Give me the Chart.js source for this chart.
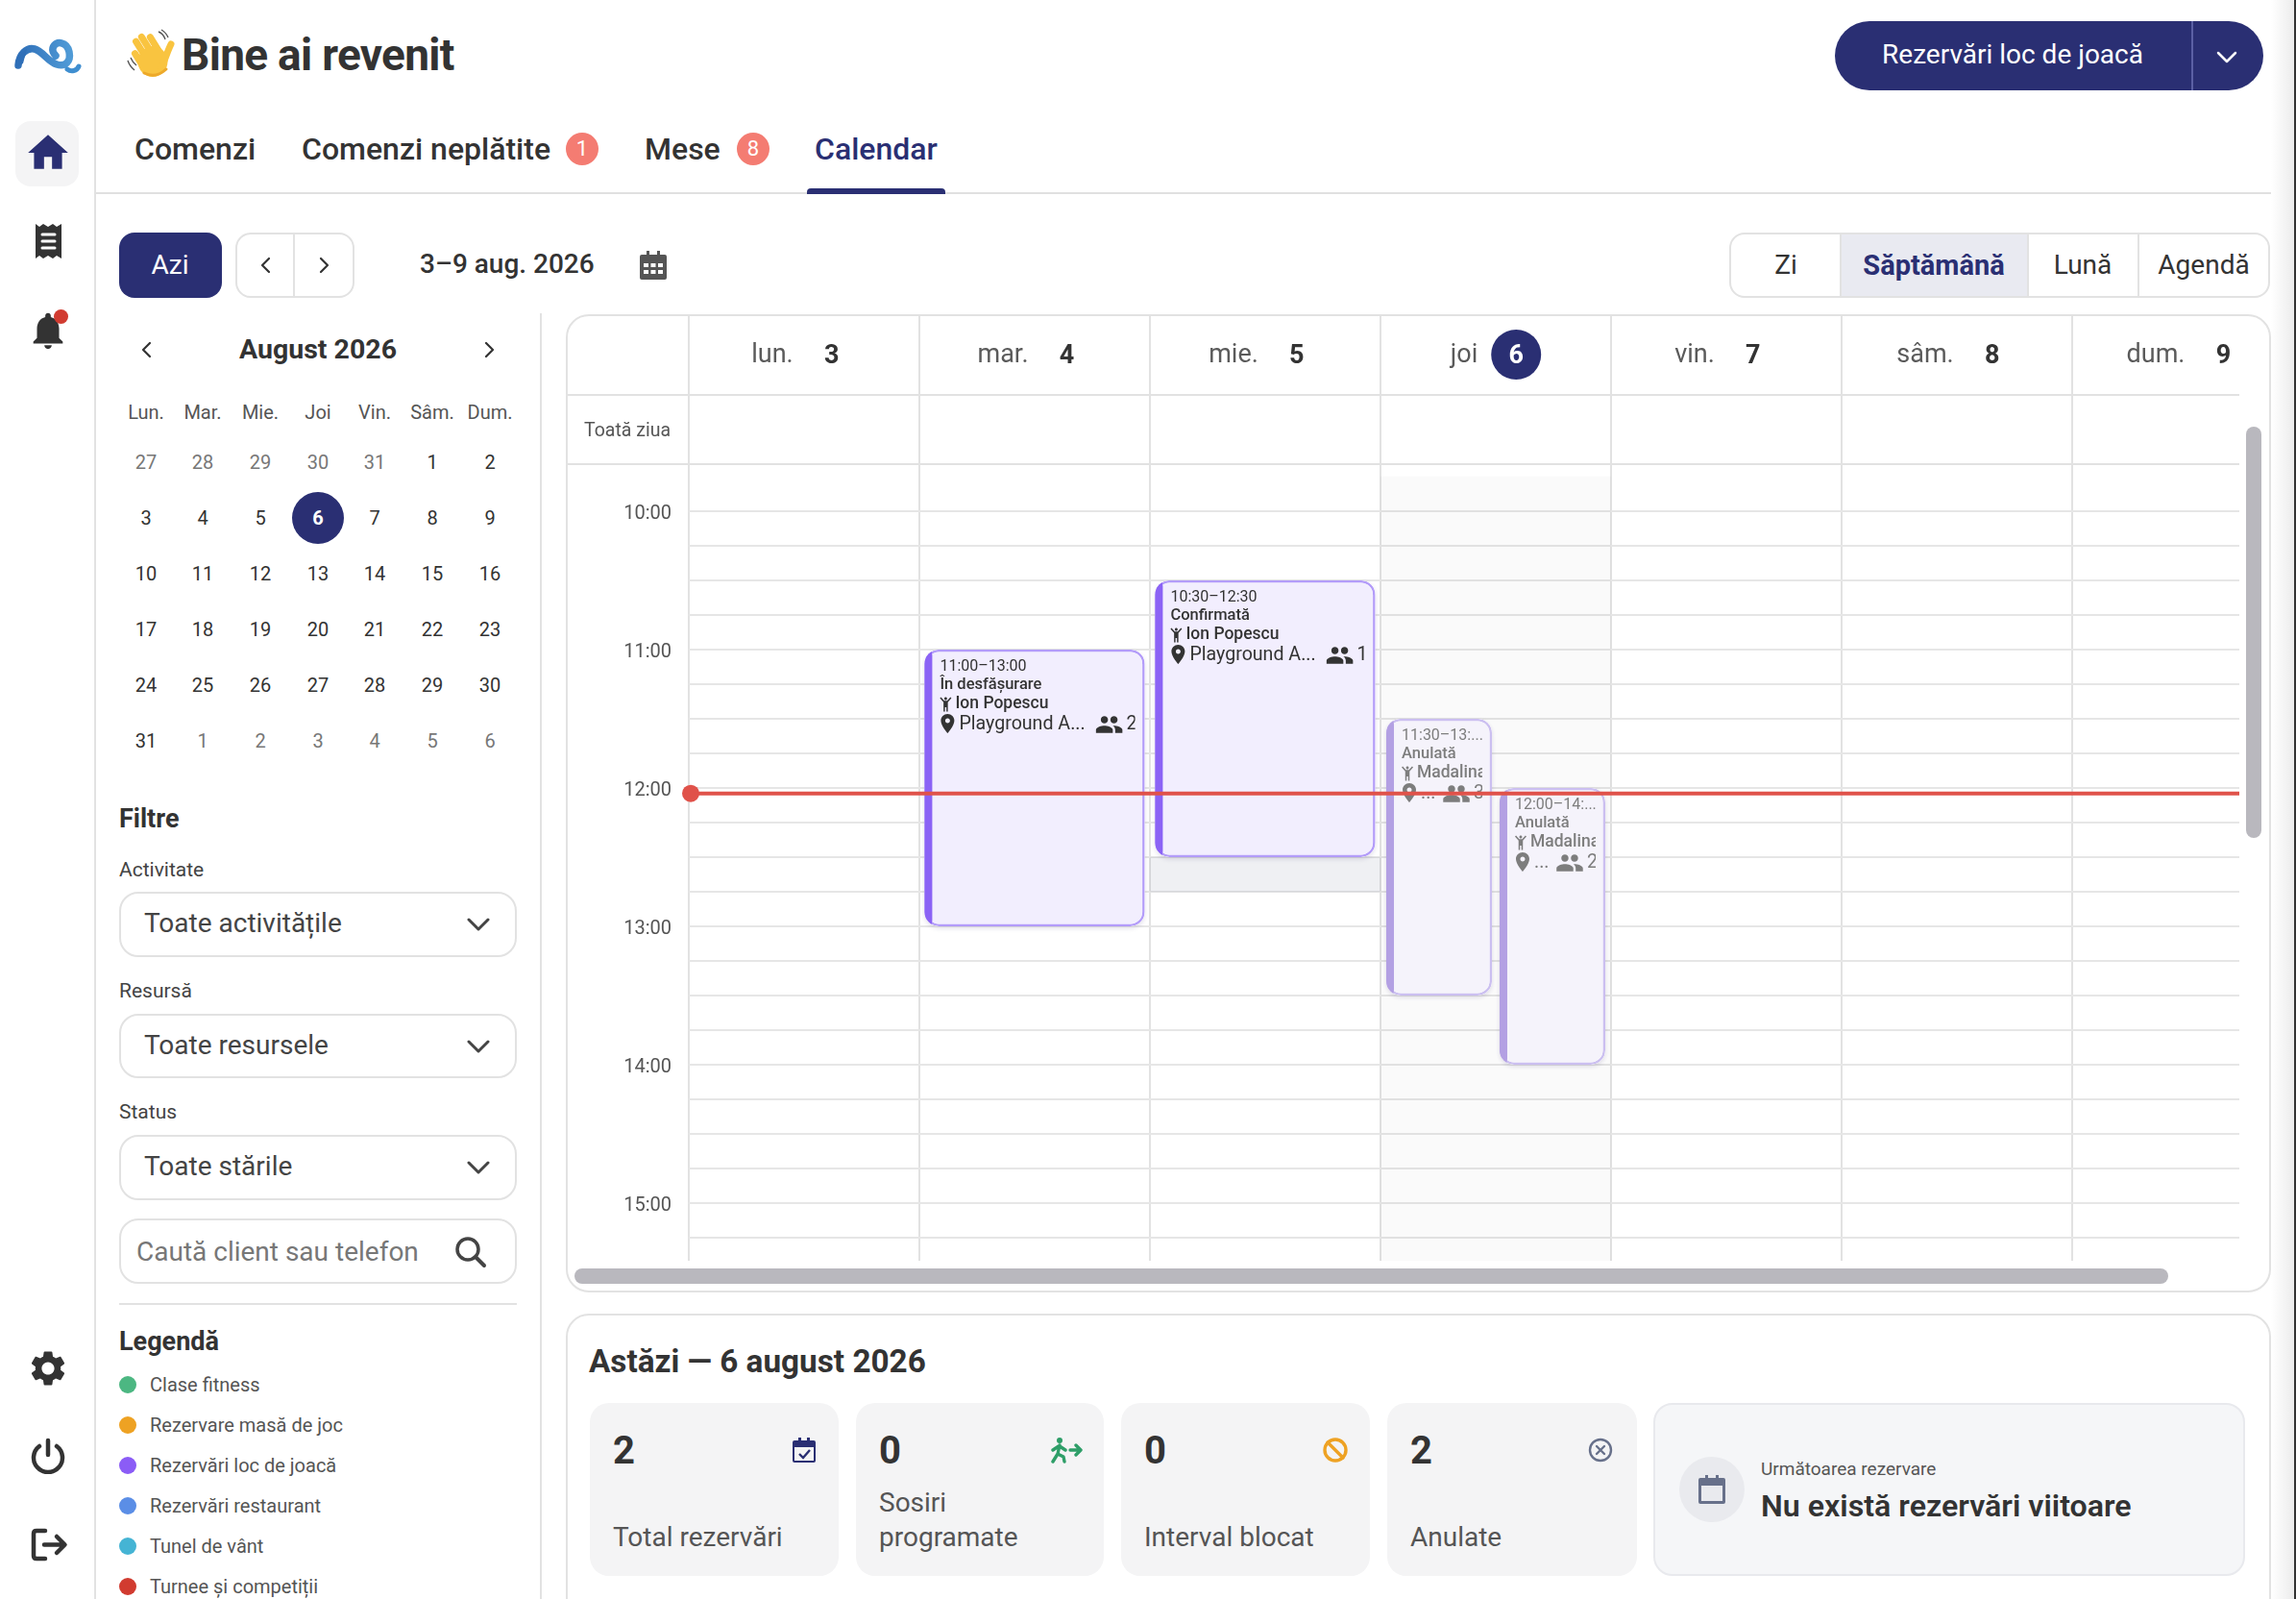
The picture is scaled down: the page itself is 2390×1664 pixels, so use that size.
<!DOCTYPE html>
<html lang="ro">
<head>
<meta charset="utf-8">
<title>Calendar</title>
<script src="https://cdn.jsdelivr.net/npm/chart.js@4"></script>
<style>
* { box-sizing: border-box; }
html, body { margin: 0; padding: 0; background: #fff; overflow: hidden; }
body { width: 2390px; height: 1664px; position: relative; font-family: Roboto, sans-serif; color: #333; }
.a { position: absolute; }
.t { position: absolute; white-space: nowrap; transform: translateY(-50%); line-height: 1.2; }
.c { transform: translate(-50%, -50%); }
.box { position: absolute; border: 2px solid #e2e2e2; border-radius: 20px; background: #fff; }
.ink { fill: none; stroke: currentColor; stroke-linecap: round; stroke-linejoin: round; }
#calPanel { position: absolute; left: 589px; top: 327px; width: 1775px; height: 1018px; border: 2px solid #e2e2e2; border-radius: 24px; background: #fff; overflow: hidden; }
#chartWrap { position: absolute; left: -1px; top: -2px; width: 1741px; height: 985px; overflow: hidden; }
#chartWrap canvas { display: block; }
.stat { position: absolute; top: 1460px; height: 180px; background: #f4f4f5; border-radius: 20px; }
</style>
</head>
<body>
<div id="ui"></div>
<div id="calPanel">
  <div id="chartWrap"><canvas id="weekChart" width="1807" height="985"></canvas></div>
</div>
<div id="overlay"></div>
<script>
// week view
const dayNames = ['lun.', 'mar.', 'mie.', 'joi', 'vin.', 'sâm.', 'dum.'];
const dayDates = [3, 4, 5, 6, 7, 8, 9];
const todayIndex = 3;

const axisStart = 9.66;
const axisEnd = 15.417;
const nowHour = 12.04;

// [start, end] in hours, one slot per weekday
const activeSlots = [null, [11, 13], [10.5, 12.5], null, null, null, null];
const cancelledFirst = [null, null, null, [11.5, 13.5], null, null, null];
const cancelledSecond = [null, null, null, [12, 14], null, null, null];
const todayShade = [null, null, null, [9.75, 15.417], null, null, null];
const blockedShade = [null, null, [12.5, 12.75], null, null, null, null];

const activeTimes = [null, '11:00–13:00', '10:30–12:30'];
const activeStates = [null, 'În desfășurare', 'Confirmată'];
const activeClients = [null, 'Ion Popescu', 'Ion Popescu'];
const activePlaces = [null, 'Playground A...', 'Playground A...'];
const activeGuests = [null, '2', '1'];
const cancelledFirstText = ['11:30–13:...', 'Anulată', 'Madalina', '...', '3'];
const cancelledSecondText = ['12:00–14:...', 'Anulată', 'Madalina', '...', '2'];

// side panel
const miniHead = ['Lun.', 'Mar.', 'Mie.', 'Joi', 'Vin.', 'Sâm.', 'Dum.'];
const miniDays = [27,28,29,30,31,1,2, 3,4,5,6,7,8,9, 10,11,12,13,14,15,16, 17,18,19,20,21,22,23, 24,25,26,27,28,29,30, 31,1,2,3,4,5,6];
const legendNames = ['Clase fitness', 'Rezervare masă de joc', 'Rezervări loc de joacă', 'Rezervări restaurant', 'Tunel de vânt', 'Turnee și competiții'];
const legendColors = ['#4cb782', '#eea223', '#8b5cf6', '#5b8ee6', '#45b4d4', '#d13b30'];
const statValues = ['2', '0', '0', '2'];
const statLabels = ['Total rezervări', 'Sosiri<br>programate', 'Interval blocat', 'Anulate'];

const NAVY = '#2a2f73';
const icons = {
  home: 'M10 20v-6h4v6h5v-8h3L12 3 2 12h3v8z',
  bell: 'M12 22c1.1 0 2-.9 2-2h-4c0 1.1.9 2 2 2zm6-6v-5c0-3.07-1.63-5.64-4.5-6.32V4c0-.83-.67-1.5-1.5-1.5s-1.5.67-1.5 1.5v.68C7.64 5.36 6 7.92 6 11v5l-2 2v1h16v-1l-2-2z',
  gear: 'M19.14 12.94c.04-.3.06-.61.06-.94 0-.32-.02-.64-.07-.94l2.03-1.58c.18-.14.23-.41.12-.61l-1.92-3.32c-.12-.22-.37-.29-.59-.22l-2.39.96c-.5-.38-1.03-.7-1.62-.94l-.36-2.54c-.04-.24-.24-.41-.48-.41h-3.84c-.24 0-.43.17-.47.41l-.36 2.54c-.59.24-1.13.57-1.62.94l-2.39-.96c-.22-.08-.47 0-.59.22L2.74 8.87c-.12.21-.08.47.12.61l2.03 1.58c-.05.3-.09.63-.09.94s.02.64.07.94l-2.03 1.58c-.18.14-.23.41-.12.61l1.92 3.32c.12.22.37.29.59.22l2.39-.96c.5.38 1.03.7 1.62.94l.36 2.54c.05.24.24.41.48.41h3.84c.24 0 .44-.17.47-.41l.36-2.54c.59-.24 1.13-.56 1.62-.94l2.39.96c.22.08.47 0 .59-.22l1.92-3.32c.12-.22.07-.47-.12-.61l-2.01-1.58zM12 15.6c-1.98 0-3.6-1.62-3.6-3.6s1.62-3.6 3.6-3.6 3.6 1.62 3.6 3.6-1.62 3.6-3.6 3.6z',
  place: 'M12 2C8.13 2 5 5.13 5 9c0 5.25 7 13 7 13s7-7.75 7-13c0-3.87-3.13-7-7-7zm0 9.5c-1.38 0-2.5-1.12-2.5-2.5s1.12-2.5 2.5-2.5 2.5 1.12 2.5 2.5-1.12 2.5-2.5 2.5z',
  people: 'M16 11c1.66 0 2.99-1.34 2.99-3S17.66 5 16 5c-1.66 0-3 1.34-3 3s1.34 3 3 3zm-8 0c1.66 0 2.99-1.34 2.99-3S9.66 5 8 5C6.34 5 5 6.34 5 8s1.34 3 3 3zm0 2c-2.33 0-7 1.17-7 3.5V19h14v-2.5c0-2.33-4.67-3.5-7-3.5zm8 0c-.29 0-.62.02-.97.05 1.16.84 1.97 1.97 1.97 3.45V19h6v-2.5c0-2.33-4.67-3.5-7-3.5z',
  kid: 'M12 2c1.1 0 2 .9 2 2s-.9 2-2 2-2-.9-2-2 .9-2 2-2zm8 1.5L15 9v13h-2v-6h-2v6H9V9L4 3.5 5.5 2 10 7h4l4.500-5z'
};

function text(s, x, y, size, color, weight, extra) {
  return `<div class="t" style="left:${x}px;top:${y}px;font-size:${size}px;color:${color};font-weight:${weight || 400};${extra || ''}">${s}</div>`;
}
function ctext(s, x, y, size, color, weight) {
  return `<div class="t c" style="left:${x}px;top:${y}px;font-size:${size}px;color:${color};font-weight:${weight || 400}">${s}</div>`;
}
function rect(x, y, w, h, style) {
  return `<div class="a" style="left:${x}px;top:${y}px;width:${w}px;height:${h}px;${style}"></div>`;
}
function glyph(d, x, y, size, color) {
  return `<svg class="a" style="left:${x - size / 2}px;top:${y - size / 2}px" width="${size}" height="${size}" viewBox="0 0 24 24"><path fill="${color}" d="${d}"/></svg>`;
}
function line(pts, x, y, w, h, color, sw) {
  return `<svg class="a" style="left:${x}px;top:${y}px;color:${color}" width="${w}" height="${h}" viewBox="0 0 ${w} ${h}"><path class="ink" stroke-width="${sw}" d="${pts}"/></svg>`;
}

let html = '';
// frame rules
html += rect(98, 0, 2, 1664, 'background:#e2e2e2');
html += rect(100, 200, 2264, 2, 'background:#e0e0e0');
html += rect(562, 326, 2, 1338, 'background:#e2e2e2');
html += rect(2364, 0, 24, 1664, 'background:linear-gradient(90deg,#fff,#ececec)');
html += rect(2388, 0, 2, 1664, 'background:#333');

// nav rail
html += `<svg class="a" style="left:12px;top:36px" width="76" height="44" viewBox="0 0 76 44"><defs><linearGradient id="lg" x1="0" x2="1"><stop offset="0" stop-color="#2f6fb8"/><stop offset="1" stop-color="#4f9ad6"/></linearGradient></defs><path d="M7 32C8 20 16 13 24 15C32 17 38 28 47 31C56 34 62 28 60 18C58 8 46 5 43 14C42 18 44 20 46 22" fill="none" stroke="url(#lg)" stroke-width="7.500" stroke-linecap="round"/><path d="M5 34C6 24 10 18 16 15L12 30z" fill="#2f6fb8"/><path d="M58 36C62 39 68 38 70 33" fill="none" stroke="#3f8ed0" stroke-width="5" stroke-linecap="round"/></svg>`;
html += rect(16, 126, 66, 68, 'background:#f4f4f5;border-radius:16px');
html += glyph(icons.home, 50, 159, 50, NAVY);
html += `<svg class="a" style="left:36px;top:232px" width="29" height="38" viewBox="0 0 29 38"><path fill="#333" d="M1 1l4 3 4-3 5 3 5-3 4 3 5-3v36l-5-3-4 3-5-3-5 3-4-3-4 3z"/><path d="M8 12h13M8 19h13M8 26h13" stroke="#fff" stroke-width="3" stroke-linecap="round"/></svg>`;
html += glyph(icons.bell, 50, 344, 46, '#333');
html += rect(56, 322, 15, 15, 'background:#d13b30;border-radius:50%');
html += glyph(icons.gear, 50, 1424, 44, '#333');
html += `<svg class="a" style="left:32px;top:1496px;color:#333" width="36" height="38" viewBox="0 0 36 38"><path class="ink" stroke-width="4.500" d="M18 3v15M9 9a15 15 0 1 0 18 0"/></svg>`;
html += line('M15 3H6Q3 3 3 6V29Q3 32 6 32H15', 32, 1590, 40, 36, '#333', 4.5);
html += line('M14 17.500H35M27 9L35.500 17.500L27 26', 32, 1590, 40, 36, '#333', 4.5);

// header
html += `<svg class="a" style="left:130px;top:30px" width="54" height="54" viewBox="0 0 54 54"><g fill="#f9c440"><g transform="rotate(-32 28 33)"><rect x="13.500" y="14" width="7" height="22" rx="3.500"/><rect x="21" y="4" width="7" height="28" rx="3.500"/><rect x="28.500" y="3" width="7" height="28" rx="3.500"/><rect x="36" y="8" width="7" height="24" rx="3.500"/></g><ellipse cx="29" cy="34" rx="15.500" ry="16"/></g><path d="M38 40C42 32 44 24 48 16" fill="none" stroke="#f9c440" stroke-width="7" stroke-linecap="round"/><path d="M20 46q12 6 23-4" fill="none" stroke="#eda92a" stroke-width="3" stroke-linecap="round"/><path d="M3 33q2 6 7 10M6 30q2 5 6 8M35 3q5 2 7 8M38 1q5 3 7 8" fill="none" stroke="#555" stroke-width="1.400"/></svg>`;
html += text('Bine ai revenit', 189, 58, 46, '#333', 700, 'letter-spacing:-0.7px');
html += `<div class="a" style="left:1910px;top:22px;width:446px;height:72px;background:${NAVY};border-radius:36px"></div>`;
html += ctext('Rezervări loc de joacă', 2095, 57, 28, '#fff');
html += rect(2281, 22, 2, 72, 'background:#5b60a4');
html += line('M3 3L12 12L21 3', 2306, 52, 24, 16, '#fff', 2.5);

// tabs
html += text('Comenzi', 140, 155, 32, '#333', 500);
html += text('Comenzi neplătite', 314, 155, 32, '#333', 500);
html += text('Mese', 671, 155, 32, '#333', 500);
html += text('Calendar', 848, 155, 32, NAVY, 500);
html += rect(589, 138, 34, 34, 'background:#f47c72;border-radius:50%');
html += ctext('1', 606, 155, 22, '#fff');
html += rect(767, 138, 34, 34, 'background:#f47c72;border-radius:50%');
html += ctext('8', 784, 155, 22, '#fff');
html += rect(840, 196, 144, 6, `background:${NAVY};border-radius:4px 4px 0 0`);

// toolbar
html += rect(124, 242, 107, 68, `background:${NAVY};border-radius:16px`);
html += ctext('Azi', 177, 276, 28, '#fff');
html += `<div class="box" style="left:245px;top:242px;width:124px;height:68px;border-radius:16px"></div>`;
html += rect(305, 244, 2, 64, 'background:#e2e2e2');
html += line('M10 2L3 9L10 16', 270, 267, 14, 18, '#333', 2.2);
html += line('M3 2L10 9L3 16', 331, 267, 14, 18, '#333', 2.2);
html += text('3–9 aug. 2026', 437, 275, 28, '#333', 500);
html += `<svg class="a" style="left:665px;top:260px" width="30" height="32" viewBox="0 0 30 32"><path fill="#555" d="M3 5h5V1h3v4h8V1h3v4h5q2 0 2 2v22q0 2-2 2H3q-2 0-2-2V7q0-2 2-2z"/><path fill="#fff" d="M5 14h5v4H5zm7.500 0h5v4h-5zm7.500 0h5v4h-5zM5 21h5v4H5zm7.500 0h5v4h-5zm7.500 0h5v4h-5z"/></svg>`;
html += `<div class="box" style="left:1800px;top:242px;width:563px;height:68px;border-radius:16px;overflow:hidden"></div>`;
html += rect(1916, 244, 194, 64, 'background:#e9eaf1');
html += rect(1915, 244, 2, 64, 'background:#e2e2e2');
html += rect(2110, 244, 2, 64, 'background:#e2e2e2');
html += rect(2225, 244, 2, 64, 'background:#e2e2e2');
html += ctext('Zi', 1859, 276, 28, '#333');
html += ctext('Săptămână', 2013, 276, 29, NAVY, 700);
html += ctext('Lună', 2168, 276, 28, '#333');
html += ctext('Agendă', 2294, 276, 28, '#333');

// mini calendar
html += line('M10 2L3 9L10 16', 146, 355, 14, 18, '#333', 2.2);
html += line('M3 2L10 9L3 16', 503, 355, 14, 18, '#333', 2.2);
html += ctext('August 2026', 331, 364, 28.5, '#333', 700);
const miniX = [152, 211, 271, 331, 390, 450, 510];
const miniY = [481, 539, 597, 655, 713, 771];
miniHead.forEach((d, i) => { html += ctext(d, miniX[i], 429, 20, '#555', 400); });
html += rect(304, 512, 54, 54, `background:${NAVY};border-radius:50%`);
miniDays.forEach((d, i) => {
  const col = i % 7, row = Math.floor(i / 7);
  const outside = (row === 0 && d > 20) || (row === 5 && d < 20);
  const selected = row === 1 && d === 6;
  html += ctext(d, miniX[col], miniY[row], 20, selected ? '#fff' : outside ? '#777' : '#333', selected ? 700 : 400);
});

// filters
html += text('Filtre', 124, 852, 27, '#333', 700);
[['Activitate', 906, 928, 'Toate activitățile'], ['Resursă', 1032, 1055, 'Toate resursele'], ['Status', 1158, 1181, 'Toate stările']].forEach(f => {
  html += text(f[0], 124, f[1], 21, '#444', 400);
  html += `<div class="box" style="left:124px;top:${f[2]}px;width:414px;height:${f[2] === 1055 ? 67 : 68}px"></div>`;
  html += text(f[3], 150, f[2] + 33, 28, '#444');
  html += line('M3 3L13 13L23 3', 485, f[2] + 26, 26, 16, '#444', 3);
});
html += `<div class="box" style="left:124px;top:1268px;width:414px;height:68px"></div>`;
html += text('Caută client sau telefon', 142, 1303, 28, '#777');
html += `<svg class="a" style="left:473px;top:1286px;color:#444" width="34" height="34" viewBox="0 0 34 34"><circle class="ink" cx="14" cy="14" r="11" stroke-width="3.500"/><path class="ink" stroke-width="4" d="M22 22L31 31"/></svg>`;
html += rect(124, 1356, 414, 2, 'background:#e2e2e2');
html += text('Legendă', 124, 1396, 27, '#333', 700);
legendNames.forEach((name, i) => {
  const y = 1441 + 42 * i;
  html += rect(124, y - 9, 18, 18, `background:${legendColors[i]};border-radius:50%`);
  html += text(name, 156, y, 20, '#555');
});

// today panel
html += `<div class="box" style="left:589px;top:1367px;width:1775px;height:320px;border-radius:24px"></div>`;
html += text('Astăzi — 6 august 2026', 613, 1417, 33.3, '#333', 700);
const statX = [614, 891, 1167, 1444];
const statW = [259, 258, 259, 260];
statValues.forEach((v, i) => {
  html += `<div class="stat" style="left:${statX[i]}px;width:${statW[i]}px"></div>`;
  html += text(v, statX[i] + 24, 1510, 40, '#333', 700);
  const two = statLabels[i].indexOf('<br>') > 0;
  html += `<div class="a" style="left:${statX[i] + 24}px;top:${two ? 1546 : 1582}px;font-size:28px;line-height:36px;color:#555;white-space:nowrap">${statLabels[i]}</div>`;
});
html += `<svg class="a" style="left:824px;top:1495px" width="26" height="28" viewBox="0 0 26 28"><path fill="${NAVY}" d="M3 4h4V1h3v3h6V1h3v3h4q2 0 2 2v19q0 2-2 2H3q-2 0-2-2V6q0-2 2-2zm0 7v14h20V11z"/><path d="M8 18l4 4 7-8" fill="none" stroke="${NAVY}" stroke-width="2.400"/></svg>`;
html += `<svg class="a" style="left:1092px;top:1495px;color:#2e9e68" width="36" height="28" viewBox="0 0 36 28"><circle cx="11" cy="4" r="3" fill="#2e9e68"/><path class="ink" stroke-width="3.400" d="M11 9L9 18L4 26M9 18L15 21L16 26M11 10L17 14M10 10L4 14M22 14H33M28 9L33 14L28 19"/></svg>`;
html += `<svg class="a" style="left:1376px;top:1495px;color:#eea223" width="28" height="28" viewBox="0 0 28 28"><circle class="ink" cx="14" cy="14" r="11" stroke-width="3.400"/><path class="ink" stroke-width="3.400" d="M6 6L22 22"/></svg>`;
html += `<svg class="a" style="left:1653px;top:1496px;color:#67708a" width="26" height="26" viewBox="0 0 26 26"><circle class="ink" cx="13" cy="13" r="11" stroke-width="2.400"/><path class="ink" stroke-width="2.400" d="M9 9L17 17M17 9L9 17"/></svg>`;
html += `<div class="a" style="left:1721px;top:1460px;width:616px;height:180px;background:#f5f6f8;border:2px solid #e8e9ed;border-radius:20px"></div>`;
html += rect(1748, 1516, 68, 68, 'background:#e9eaee;border-radius:50%');
html += `<svg class="a" style="left:1767px;top:1534px" width="30" height="32" viewBox="0 0 30 32"><path fill="#67708a" d="M3 4h5V1h3v3h8V1h3v3h5q2 0 2 2v23q0 2-2 2H3q-2 0-2-2V6q0-2 2-2zm1 8v16h22V12z"/></svg>`;
html += text('Următoarea rezervare', 1833, 1529, 19, '#555');
html += text('Nu există rezervări viitoare', 1833, 1567, 32.2, '#333', 600);
document.getElementById('ui').innerHTML = html;

// things that sit over the calendar panel
document.getElementById('overlay').innerHTML =
  text('Toată ziua', 608, 448, 19.5, '#555') +
  rect(2338, 444, 16, 428, 'background:#b9b8be;border-radius:8px') +
  rect(598, 1320, 1659, 16, 'background:#b9b8be;border-radius:8px');

const pathCache = {};
function drawIcon(ctx, name, x, y, size, color) {
  pathCache[name] = pathCache[name] || new Path2D(icons[name]);
  ctx.save();
  ctx.translate(x, y);
  ctx.scale(size / 24, size / 24);
  ctx.fillStyle = color;
  ctx.fill(pathCache[name]);
  ctx.restore();
}
function roundBox(ctx, el, r) {
  const x0 = el.x - el.width / 2, top = Math.min(el.y, el.base), h = Math.abs(el.base - el.y);
  ctx.beginPath();
  ctx.roundRect(x0, top, el.width, h, r);
  return { x0, x1: x0 + el.width, top, h };
}

// soft shadow under the event cards
const cardShadow = {
  id: 'cardShadow',
  beforeDatasetDraw(chart, args) {
    const ds = chart.data.datasets[args.index];
    if (!ds.cardText) return;
    const ctx = chart.ctx;
    args.meta.data.forEach((el, i) => {
      if (!ds.data[i]) return;
      ctx.save();
      ctx.shadowColor = 'rgba(40,30,90,0.14)';
      ctx.shadowBlur = 5;
      ctx.shadowOffsetY = 2;
      roundBox(ctx, el, 15);
      ctx.fillStyle = '#fff';
      ctx.fill();
      ctx.restore();
    });
  }
};

// left stripe plus the text of each card
const cardFace = {
  id: 'cardFace',
  afterDatasetDraw(chart, args) {
    const ds = chart.data.datasets[args.index];
    if (!ds.cardText) return;
    const ctx = chart.ctx;
    args.meta.data.forEach((el, i) => {
      if (!ds.data[i]) return;
      const rows = ds.cardText(i);
      ctx.save();
      const b = roundBox(ctx, el, 15);
      ctx.clip();
      ctx.fillStyle = ds.stripeColor;
      ctx.beginPath();
      ctx.roundRect(b.x0 - 14, b.top - 4, 22, b.h + 8, [0, 10, 10, 0]);
      ctx.fill();
      ctx.restore();

      ctx.save();
      ctx.beginPath();
      ctx.rect(b.x0 + 10, b.top, el.width - 20, b.h);
      ctx.clip();
      ctx.textBaseline = 'middle';
      ctx.textAlign = 'left';
      ctx.fillStyle = ds.inkColor;
      ctx.font = '400 16px Roboto';
      ctx.fillText(rows[0], b.x0 + 16, b.top + 18);
      ctx.font = '500 16.500px Roboto';
      ctx.fillText(rows[1], b.x0 + 16, b.top + 37);
      drawIcon(ctx, 'kid', b.x0 + 13, b.top + 48, 18, ds.inkColor);
      ctx.font = '500 17.500px Roboto';
      ctx.fillText(rows[2], b.x0 + 32, b.top + 57);
      drawIcon(ctx, 'place', b.x0 + 12, b.top + 65, 24, ds.inkColor);
      ctx.font = '400 19.600px Roboto';
      ctx.fillText(rows[3], b.x0 + 36, b.top + 78);
      drawIcon(ctx, 'people', b.x1 - 52, b.top + 63, 30, ds.inkColor);
      ctx.fillText(rows[4], b.x1 - 19, b.top + 78);
      ctx.restore();
    });
  }
};

// header rules, day numbers and the current time line
const weekFrame = {
  id: 'weekFrame',
  afterDraw(chart) {
    const ctx = chart.ctx, x = chart.scales.x, y = chart.scales.y, area = chart.chartArea;
    ctx.save();
    ctx.strokeStyle = '#e2e2e2';
    ctx.lineWidth = 2;
    [84, 156].forEach(yy => {
      ctx.beginPath();
      ctx.moveTo(0, yy);
      ctx.lineTo(chart.width, yy);
      ctx.stroke();
    });
    ctx.textBaseline = 'middle';
    ctx.textAlign = 'center';
    dayDates.forEach((d, i) => {
      ctx.font = '400 27px Roboto';
      const nameW = ctx.measureText(dayNames[i]).width;
      const cx = x.getPixelForTick(i) - (nameW + 66) / 2 + nameW + 40;
      if (i === todayIndex) {
        ctx.fillStyle = NAVY;
        ctx.beginPath();
        ctx.arc(cx, 42, 26, 0, Math.PI * 2);
        ctx.fill();
      }
      ctx.font = '700 27px Roboto';
      ctx.fillStyle = i === todayIndex ? '#fff' : '#333';
      ctx.fillText(d, cx, 44);
    });
    const ny = y.getPixelForValue(nowHour);
    ctx.strokeStyle = '#e0524a';
    ctx.lineWidth = 4;
    ctx.beginPath();
    ctx.moveTo(area.left, ny);
    ctx.lineTo(area.right, ny);
    ctx.stroke();
    ctx.fillStyle = '#e0524a';
    ctx.beginPath();
    ctx.arc(area.left + 2, ny, 9, 0, Math.PI * 2);
    ctx.fill();
    ctx.restore();
  }
};

const shadeBar = {
  grouped: false,
  barPercentage: 1,
  categoryPercentage: 1,
  borderWidth: 0,
  order: 5
};
const cardBar = {
  barPercentage: 1,
  borderWidth: 2.5,
  borderSkipped: false,
  borderRadius: 15,
  skipNull: true,
  order: 1
};

new Chart('weekChart', {
  type: 'bar',
  data: {
    labels: dayNames,
    datasets: [
      Object.assign({ data: todayShade, backgroundColor: 'rgba(0,0,0,0.02)' }, shadeBar),
      Object.assign({ data: blockedShade, backgroundColor: 'rgba(30,40,80,0.07)' }, shadeBar),
      Object.assign({
        data: activeSlots,
        categoryPercentage: 0.955,
        backgroundColor: '#f2eefe',
        borderColor: '#b39cf9',
        stripeColor: '#8b63f5',
        inkColor: '#333',
        cardText: i => [activeTimes[i], activeStates[i], activeClients[i], activePlaces[i], activeGuests[i]]
      }, cardBar),
      Object.assign({
        data: cancelledFirst,
        categoryPercentage: 0.983,
        maxBarThickness: 110,
        backgroundColor: '#f5f3fb',
        borderColor: '#cbbff0',
        stripeColor: '#b3a0e3',
        inkColor: '#7d7d7d',
        cardText: () => cancelledFirstText
      }, cardBar),
      Object.assign({
        data: cancelledSecond,
        categoryPercentage: 0.983,
        maxBarThickness: 110,
        backgroundColor: '#f5f3fb',
        borderColor: '#cbbff0',
        stripeColor: '#b3a0e3',
        inkColor: '#7d7d7d',
        cardText: () => cancelledSecondText
      }, cardBar)
    ]
  },
  options: {
    responsive: false,
    animation: false,
    events: [],
    layout: { padding: 0 },
    plugins: { legend: { display: false }, tooltip: { enabled: false }, title: { display: false } },
    scales: {
      x: {
        position: 'top',
        afterFit: s => { s.height = 156; s.paddingLeft = 0; s.paddingRight = 0; },
        border: { display: false },
        grid: { color: '#e2e2e2', lineWidth: 2, tickLength: 156, tickColor: '#e2e2e2', offset: true },
        ticks: {
          font: { family: 'Roboto', size: 27 },
          color: '#5a5a5a',
          padding: -59.5,
          labelOffset: -33,
          autoSkip: false,
          maxRotation: 0
        }
      },
      y: {
        reverse: true,
        min: axisStart,
        max: axisEnd,
        afterFit: s => { s.width = 127; s.paddingTop = 0; s.paddingBottom = 0; },
        border: { display: false },
        grid: {
          lineWidth: 2,
          drawTicks: false,
          color: c => (c.tick && c.tick.value === axisEnd ? 'rgba(0,0,0,0)' : '#e6e6e6')
        },
        ticks: {
          stepSize: 0.25,
          autoSkip: false,
          maxTicksLimit: 100,
          padding: 18,
          labelOffset: 3,
          font: { family: 'Roboto', size: 20 },
          color: '#555',
          callback: v => (Number.isInteger(v) ? v + ':00' : '')
        }
      }
    }
  },
  plugins: [cardShadow, cardFace, weekFrame]
});
</script>
</body>
</html>
